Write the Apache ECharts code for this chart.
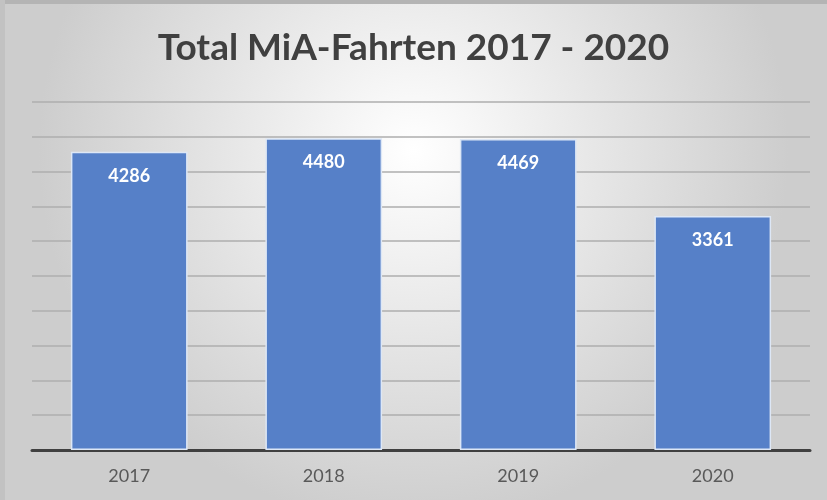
<!DOCTYPE html>
<html>
<head>
<meta charset="utf-8">
<title>Total MiA-Fahrten</title>
<script src="https://cdn.jsdelivr.net/npm/echarts@6/dist/echarts.min.js"></script>
<style>
  html, body { margin: 0; padding: 0; }
  #chart { width: 827px; height: 500px; }
</style>
</head>
<body>
<div id="chart"></div>
<script>
var years = ['2017', '2018', '2019', '2020'];
var fahrten = [4286, 4480, 4469, 3361];

var chart = echarts.init(document.getElementById('chart'));
var option = {
    backgroundColor: {
        type: 'radial', x: 0.5, y: 0.3, r: 0.75,
        colorStops: [
            { offset: 0, color: '#ffffff' },
            { offset: 1, color: '#cdcdcd' }
        ]
    },
    title: {
        text: 'Total MiA-Fahrten 2017 - 2020',
        left: 'center',
        top: 25,
        textStyle: {
            fontFamily: 'Lato',
            fontWeight: 'bold',
            fontSize: 37,
            color: '#404040'
        }
    },
    graphic: [
        { type: 'rect', shape: { x: 0, y: 0, width: 827, height: 4 }, style: { fill: '#b4b4b4' } },
        { type: 'rect', shape: { x: 0, y: 0, width: 5, height: 500 }, style: { fill: '#c2c2c2' } }
    ],
    grid: { left: 32, right: 17, top: 102, bottom: 50 },
    xAxis: {
        type: 'category',
        data: years,
        axisTick: { show: false },
        axisLine: { lineStyle: { color: '#404040', width: 3 } },
        axisLabel: {
            margin: 17,
            fontFamily: 'Lato',
            fontSize: 18,
            color: '#595959'
        }
    },
    yAxis: {
        type: 'value',
        min: 0,
        max: 5000,
        interval: 500,
        axisLabel: { show: false },
        axisLine: { show: false },
        axisTick: { show: false },
        splitLine: { lineStyle: { color: '#aeaeae', width: 1.5 } }
    },
    series: [{
        name: 'Fahrten',
        type: 'bar',
        data: fahrten,
        barWidth: '60%',
        itemStyle: {
            color: '#5680c8',
            borderColor: '#dde7f6',
            borderWidth: 1.5
        },
        label: {
            show: true,
            position: 'insideTop',
            distance: 15,
            color: '#ffffff',
            fontFamily: 'Lato',
            fontWeight: 'bold',
            fontSize: 18
        }
    }]
};
chart.setOption(option);

window.onresize = function () {
    chart.resize();
};
</script>
</body>
</html>
